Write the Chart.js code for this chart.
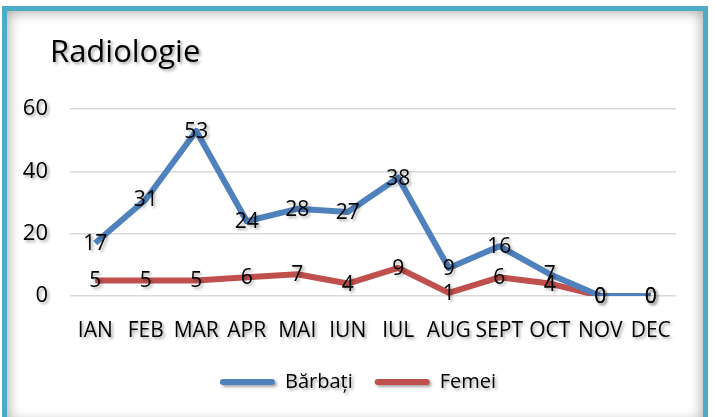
<!DOCTYPE html>
<html>
<head>
<meta charset="utf-8">
<script src="https://cdn.jsdelivr.net/npm/chart.js@4"></script>
<style>
  html, body { margin: 0; padding: 0; background: #fff; overflow: hidden; }
  #wrap { position: relative; width: 717px; height: 417px; overflow: hidden; }
  #frame {
    position: absolute; left: 2px; top: 6px; width: 696px; height: 412px;
    border: 5px solid #4BACC6; border-bottom-width: 6px;
    box-shadow: inset 0 0 14px rgba(0, 0, 0, 0.4);
    background: #fff;
  }
  #chart { position: absolute; left: 0; top: 0; }
</style>
</head>
<body>
<div id="wrap">
  <div id="frame"></div>
  <canvas id="chart" width="717" height="417"></canvas>
</div>
<script>
const months = ['IAN', 'FEB', 'MAR', 'APR', 'MAI', 'IUN', 'IUL', 'AUG', 'SEPT', 'OCT', 'NOV', 'DEC'];
const barbati = [17, 31, 53, 24, 28, 27, 38, 9, 16, 7, 0, 0];
const femei = [5, 5, 5, 6, 7, 4, 9, 1, 6, 4, 0, 0];
const yTicks = [0, 20, 40, 60];

const FONT = "'Open Sans', 'Noto Sans', sans-serif";

const setShadow = (ctx) => {
    ctx.shadowColor = 'rgba(0,0,0,0.35)';
    ctx.shadowBlur = 3;
    ctx.shadowOffsetX = 2;
    ctx.shadowOffsetY = 2;
};

// soft drop shadow on the texts, like the original
const textShadow = {
    id: 'textShadow',
    afterUpdate(chart) {
        const wrap = (obj, name) => {
            if (!obj || obj['_shadowed_' + name]) return;
            const orig = obj[name];
            obj[name] = function (...args) {
                chart.ctx.save();
                setShadow(chart.ctx);
                orig.apply(this, args);
                chart.ctx.restore();
            };
            obj['_shadowed_' + name] = true;
        };
        Object.values(chart.scales).forEach(s => wrap(s, 'drawLabels'));
        wrap(chart.titleBlock, 'draw');
        wrap(chart.legend, 'draw');
    },
    // title sits over the tick labels, legend a bit right of centre
    afterLayout(chart) {
        if (chart.titleBlock) chart.titleBlock.left = 50;
        if (chart.legend) chart.legend.left = 40;
    }
};

// values written on top of each point
const pointLabels = {
    id: 'pointLabels',
    afterDatasetsDraw(chart) {
        const ctx = chart.ctx;
        ctx.save();
        ctx.font = '21px ' + FONT;
        ctx.textAlign = 'center';
        ctx.textBaseline = 'middle';
        ctx.fillStyle = '#000';
        setShadow(ctx);
        chart.data.datasets.forEach((ds, i) => {
            chart.getDatasetMeta(i).data.forEach((pt, j) => {
                ctx.fillText(String(ds.data[j]), pt.x, pt.y + 1);
            });
        });
        ctx.restore();
    }
};

new Chart(document.getElementById('chart').getContext('2d'), {
    type: 'line',
    data: {
        labels: months,
        datasets: [{
            label: 'Bărbați',
            data: barbati,
            borderColor: '#4F81BD',
            backgroundColor: '#4F81BD',
            borderWidth: 6,
            pointRadius: 0,
            borderJoinStyle: 'round',
            tension: 0
        }, {
            label: 'Femei',
            data: femei,
            borderColor: '#C0504D',
            backgroundColor: '#C0504D',
            borderWidth: 6,
            pointRadius: 0,
            borderJoinStyle: 'round',
            tension: 0
        }]
    },
    options: {
        responsive: false,
        animation: false,
        layout: { padding: { left: 20, right: 41, top: 15, bottom: 15 } },
        plugins: {
            title: {
                display: true,
                text: 'Radiologie',
                align: 'start',
                color: '#000',
                font: { family: FONT, size: 31, weight: 'normal' },
                padding: { top: 20, bottom: 37 }
            },
            legend: {
                position: 'bottom',
                labels: {
                    color: '#000',
                    font: { family: FONT, size: 20 },
                    boxWidth: 55,
                    boxHeight: 6,
                    padding: 22,
                    useBorderRadius: true,
                    borderRadius: 3,
                    generateLabels(chart) {
                        return Chart.defaults.plugins.legend.labels.generateLabels(chart)
                            .map(item => Object.assign(item, { lineWidth: 0 }));
                    }
                }
            },
            tooltip: { enabled: false }
        },
        scales: {
            x: {
                offset: true,
                grid: { display: false },
                border: { display: false },
                ticks: { color: '#000', font: { family: FONT, size: 21 }, padding: 14, maxRotation: 0 },
                afterFit(scale) { scale.height = 54; }
            },
            y: {
                min: yTicks[0],
                max: yTicks[yTicks.length - 1],
                grid: { color: '#D9D9D9', lineWidth: 1.5, drawTicks: false },
                border: { display: false },
                ticks: {
                    color: '#000',
                    font: { family: FONT, size: 22 },
                    padding: 22,
                    stepSize: yTicks[1] - yTicks[0],
                    callback: (v) => String(v)
                },
                afterFit(scale) { scale.width = 50; }
            }
        }
    },
    plugins: [pointLabels, textShadow]
});
</script>
</body>
</html>
